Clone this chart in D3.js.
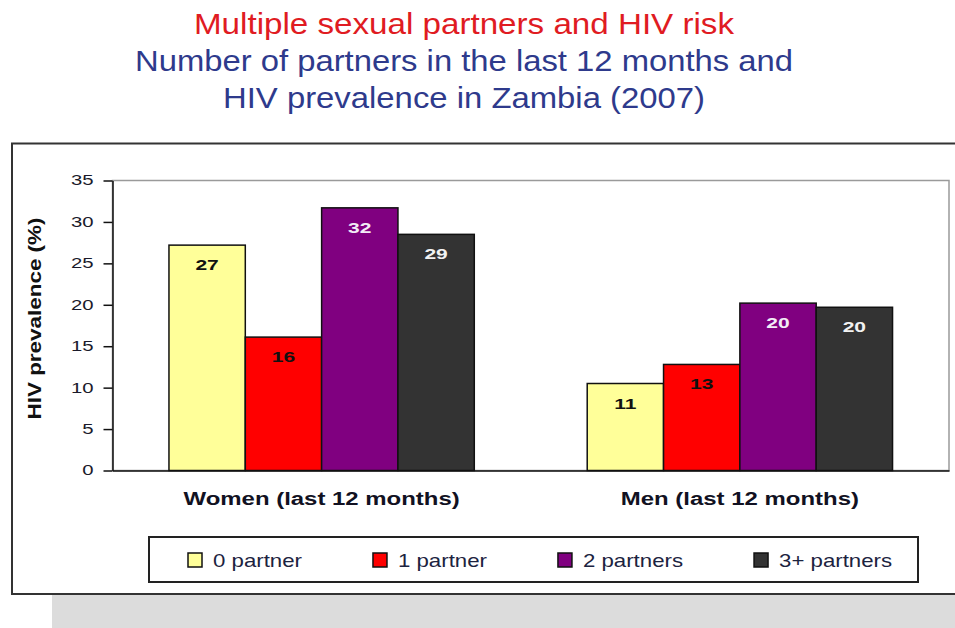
<!DOCTYPE html>
<html>
<head>
<meta charset="utf-8">
<script src="https://cdn.jsdelivr.net/npm/d3@7"></script>
<style>
  html, body { margin: 0; padding: 0; background: #ffffff; }
  svg { display: block; font-family: "Liberation Sans", Arial, sans-serif; }
</style>
</head>
<body>
<svg id="chart" width="955" height="628"></svg>
<script>
// ---- data ----
const titleLines = [
  "Multiple sexual partners and HIV risk",
  "Number of partners in the last 12 months and",
  "HIV prevalence in Zambia (2007)"
];
const categories = ["Women (last 12 months)", "Men (last 12 months)"];
const series = ["0 partner", "1 partner", "2 partners", "3+ partners"];
const womenValues = [27.2, 16.1, 31.7, 28.5];
const menValues = [10.5, 12.8, 20.2, 19.7];
const yTicks = [0, 5, 10, 15, 20, 25, 30, 35];
const yLabel = "HIV prevalence (%)";

const colors = ["#FFFF99", "#FF0000", "#800080", "#333333"];
const labelColors = ["#111111", "#111111", "#f2ecf6", "#f2f2f2"];

const valuesByCat = [womenValues, menValues];

const svg = d3.select("#chart");

// horizontally stretch text (reference is rendered wide)
function stretch(sel, k) {
  sel.each(function() {
    const w = this.getComputedTextLength();
    d3.select(this).attr("textLength", w * k).attr("lengthAdjust", "spacingAndGlyphs");
  });
}

// shadow + outer frame
svg.append("rect").attr("x", 52).attr("y", 594).attr("width", 910).attr("height", 40).attr("fill", "#dcdcdc");
svg.append("rect").attr("x", 12).attr("y", 143.5).attr("width", 960).attr("height", 450.5)
  .attr("fill", "#ffffff").attr("stroke", "#333333").attr("stroke-width", 2);

// titles
const titleSpec = [
  { y: 34, color: "#e01b22", len: 540 },
  { y: 71, color: "#2e3a8c", len: 658 },
  { y: 108, color: "#2e3a8c", len: 482 }
];
titleLines.forEach((t, i) => {
  svg.append("text").attr("x", 464).attr("y", titleSpec[i].y)
    .attr("text-anchor", "middle").attr("font-size", 30)
    .attr("fill", titleSpec[i].color)
    .attr("textLength", titleSpec[i].len).attr("lengthAdjust", "spacingAndGlyphs")
    .text(t);
});

// scales
const plot = { left: 112.5, right: 949, top: 180.5, bottom: 470.5 };
const y = d3.scaleLinear().domain([0, 35]).range([plot.bottom, plot.top]);
const x0 = d3.scaleBand().domain(categories).range([plot.left, plot.right])
  .paddingInner(0.27).paddingOuter(0.135);
const x1 = d3.scaleBand().domain(series).range([0, x0.bandwidth()]).padding(0);

// plot area border
svg.append("rect").attr("x", plot.left).attr("y", plot.top)
  .attr("width", plot.right - plot.left).attr("height", plot.bottom - plot.top)
  .attr("fill", "#ffffff").attr("stroke", "#9a9a9a").attr("stroke-width", 1.5);

// bars
const groups = svg.append("g").selectAll("g").data(categories).join("g")
  .attr("transform", d => `translate(${x0(d)},0)`);

groups.each(function(cat, ci) {
  const g = d3.select(this);
  const data = series.map((s, si) => ({ s, si, v: valuesByCat[ci][si] }));
  g.selectAll("rect").data(data).join("rect")
    .attr("x", d => x1(d.s))
    .attr("y", d => y(d.v))
    .attr("width", x1.bandwidth())
    .attr("height", d => y(0) - y(d.v))
    .attr("fill", d => colors[d.si])
    .attr("stroke", "#111111").attr("stroke-width", 1.5);
  g.selectAll("text").data(data).join("text")
    .attr("x", d => x1(d.s) + x1.bandwidth() / 2)
    .attr("y", d => y(d.v) + 25)
    .attr("text-anchor", "middle")
    .attr("font-size", 15).attr("font-weight", "bold")
    .attr("fill", d => labelColors[d.si])
    .text(d => Math.round(d.v))
    .call(stretch, 1.4);
});

// y axis
const yAxis = svg.append("g").attr("transform", `translate(${plot.left},0)`)
  .call(d3.axisLeft(y).tickValues(yTicks).tickSize(9).tickPadding(10).tickSizeOuter(0));
yAxis.select(".domain").attr("stroke", "#111111").attr("stroke-width", 1.5);
yAxis.selectAll(".tick line").attr("stroke", "#111111").attr("stroke-width", 1.5);
yAxis.selectAll(".tick text").attr("font-size", 14).attr("fill", "#1a1a2a")
  .attr("font-family", "Liberation Sans, Arial, sans-serif")
  .call(stretch, 1.45);

// x axis
const xAxis = svg.append("g").attr("transform", `translate(0,${plot.bottom})`)
  .call(d3.axisBottom(x0).tickSize(0).tickPadding(22));
xAxis.select(".domain").attr("stroke", "#111111").attr("stroke-width", 1.5);
xAxis.selectAll(".tick text").attr("font-size", 18).attr("font-weight", "bold")
  .attr("fill", "#111122").attr("font-family", "Liberation Sans, Arial, sans-serif")
  .call(stretch, 1.33);

// y label
svg.append("text")
  .attr("transform", `translate(41,${(plot.top + plot.bottom) / 2 - 7}) rotate(-90)`)
  .attr("text-anchor", "middle").attr("font-size", 18).attr("font-weight", "bold")
  .attr("fill", "#111111")
  .attr("textLength", 202).attr("lengthAdjust", "spacingAndGlyphs")
  .text(yLabel);

// legend
svg.append("rect").attr("x", 149).attr("y", 537).attr("width", 769).attr("height", 45)
  .attr("fill", "#ffffff").attr("stroke", "#222222").attr("stroke-width", 2);
let lx = 188;
series.forEach((s, i) => {
  svg.append("rect").attr("x", lx).attr("y", 553).attr("width", 14).attr("height", 14)
    .attr("fill", colors[i]).attr("stroke", "#111111").attr("stroke-width", 1.5);
  const t = svg.append("text").attr("x", lx + 25).attr("y", 567)
    .attr("font-size", 19).attr("fill", "#1c2340").text(s);
  const w = t.node().getComputedTextLength() * 1.17;
  t.attr("textLength", w).attr("lengthAdjust", "spacingAndGlyphs");
  lx = lx + 25 + w + 71;
});
</script>
</body>
</html>
